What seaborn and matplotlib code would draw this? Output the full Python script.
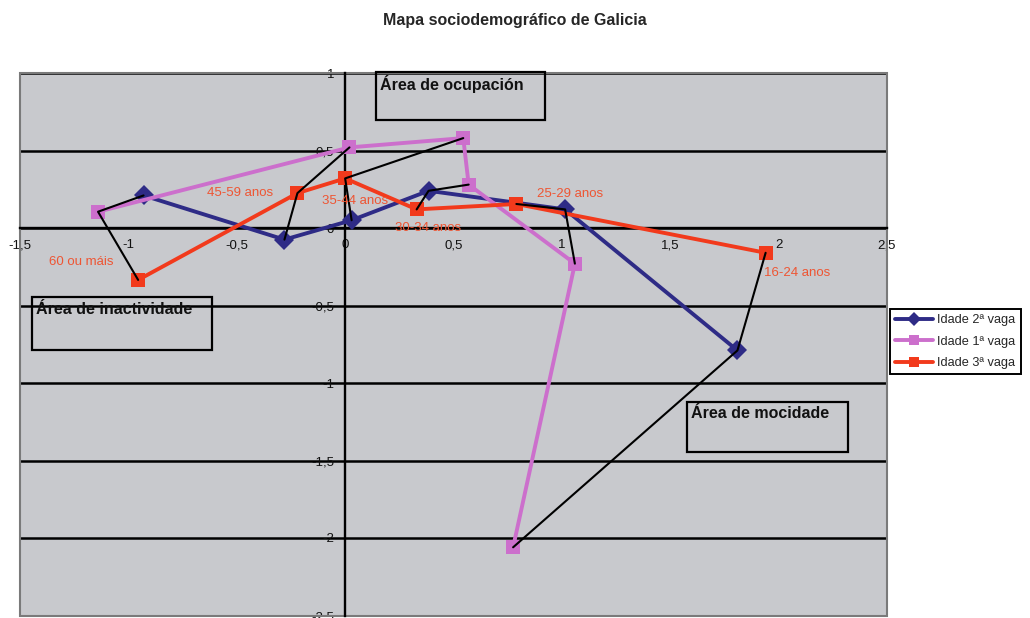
import matplotlib
matplotlib.use('Agg')
import numpy as np
import pandas as pd
import matplotlib.pyplot as plt
import seaborn as sns
from matplotlib.lines import Line2D
from matplotlib.patches import Rectangle
from matplotlib.ticker import FuncFormatter, MultipleLocator


# grupos de idade (mesma orde en todas as series)
idades = ['60 ou máis', '45-59 anos', '35-44 anos', '30-34 anos', '25-29 anos', '16-24 anos']

# coordenadas
vaga2_x = [-0.93, -0.28, 0.03, 0.385, 1.015, 1.81]
vaga2_y = [0.21, -0.075, 0.05, 0.24, 0.12, -0.79]

vaga1_x = [-1.14, 0.02, 0.545, 0.57, 1.06, 0.775]
vaga1_y = [0.105, 0.52, 0.58, 0.28, -0.23, -2.06]

vaga3_x = [-0.955, -0.22, 0.0, 0.33, 0.79, 1.94]
vaga3_y = [-0.335, 0.225, 0.32, 0.12, 0.155, -0.16]

series = ['Idade 2ª vaga', 'Idade 1ª vaga', 'Idade 3ª vaga']

# liñas negras que unen o mesmo grupo de idade entre vagas
conexions = [
    ['Idade 3ª vaga', 'Idade 1ª vaga', 'Idade 2ª vaga'],
    ['Idade 2ª vaga', 'Idade 3ª vaga', 'Idade 1ª vaga'],
    ['Idade 2ª vaga', 'Idade 3ª vaga', 'Idade 1ª vaga'],
    ['Idade 3ª vaga', 'Idade 2ª vaga', 'Idade 1ª vaga'],
    ['Idade 3ª vaga', 'Idade 2ª vaga', 'Idade 1ª vaga'],
    ['Idade 3ª vaga', 'Idade 2ª vaga', 'Idade 1ª vaga'],
]

# desprazamento das etiquetas (px) respecto ao punto da 3ª vaga
etiqueta_dx = [-57, -57, 10, 11, 54, 32]
etiqueta_dy = [18, 0, -23, -19, 10, -20]

cores = {'Idade 2ª vaga': '#2E2B86', 'Idade 1ª vaga': '#CC6FCC', 'Idade 3ª vaga': '#F23A1C'}
marcadores = {'Idade 2ª vaga': 'D', 'Idade 1ª vaga': 's', 'Idade 3ª vaga': 's'}

W, H = 1030, 618


def fx(px):
    return px / W


def fy(py):
    return 1 - py / H


def main():
    df = pd.concat([
        pd.DataFrame({'x': vaga2_x, 'y': vaga2_y, 'serie': series[0], 'idade': idades}),
        pd.DataFrame({'x': vaga1_x, 'y': vaga1_y, 'serie': series[1], 'idade': idades}),
        pd.DataFrame({'x': vaga3_x, 'y': vaga3_y, 'serie': series[2], 'idade': idades}),
    ], ignore_index=True)

    sns.set_style('white')
    plt.rcParams['font.family'] = ['Liberation Sans', 'DejaVu Sans']

    fig = plt.figure(figsize=(W / 100, H / 100), dpi=100)
    ax = fig.add_axes([fx(20), fy(615.5), (887 - 20) / W, (615.5 - 73) / H])
    ax.set_facecolor('#C8C9CD')

    sns.lineplot(data=df, x='x', y='y', hue='serie', style='serie',
                 hue_order=series, style_order=series, palette=cores,
                 markers=marcadores, dashes=False, sort=False, estimator=None,
                 linewidth=2.8, markersize=10, markeredgewidth=0,
                 legend=False, ax=ax, zorder=3)

    # unir os grupos de idade
    for i, orde in enumerate(conexions):
        xs = [df[(df.serie == s) & (df.idade == idades[i])].x.iloc[0] for s in orde]
        ys = [df[(df.serie == s) & (df.idade == idades[i])].y.iloc[0] for s in orde]
        ax.plot(xs, ys, color='black', lw=1.5, zorder=4)

    # etiquetas de idade
    for i, nome in enumerate(idades):
        ax.annotate(nome, (vaga3_x[i], vaga3_y[i]),
                    xytext=(etiqueta_dx[i] * 0.72, etiqueta_dy[i] * 0.72),
                    textcoords='offset points', ha='center', va='center',
                    color='#EE5533', fontsize=9.5,
                    family=['Liberation Sans Narrow', 'Liberation Sans', 'DejaVu Sans'],
                    zorder=5)

    ax.set_xlim(-1.5, 2.5)
    ax.set_ylim(-2.5, 1)
    ax.xaxis.set_major_locator(MultipleLocator(0.5))
    ax.yaxis.set_major_locator(MultipleLocator(0.5))
    fmt = FuncFormatter(lambda v, p: f"{v:g}".replace('.', ','))
    ax.xaxis.set_major_formatter(fmt)
    ax.yaxis.set_major_formatter(fmt)

    ax.spines['left'].set_position(('data', 0))
    ax.spines['bottom'].set_position(('data', 0))
    for s in ['left', 'bottom']:
        ax.spines[s].set_linewidth(1.7)
        ax.spines[s].set_color('black')
        ax.spines[s].set_zorder(2)
    ax.spines['top'].set_visible(False)
    ax.spines['right'].set_visible(False)
    ax.add_patch(Rectangle((0, 0), 1, 1, transform=ax.transAxes, fill=False,
                           edgecolor='#7A7A7A', lw=1.5, zorder=1, clip_on=False))

    ax.tick_params(axis='both', direction='out', length=6, width=1.3,
                   color='black', labelsize=9.5, pad=2, labelcolor='#111111')
    ax.yaxis.grid(True, color='black', lw=1.8)
    ax.xaxis.grid(False)
    ax.set_axisbelow(True)
    ax.set_xlabel('')
    ax.set_ylabel('')

    # caixas de área
    areas = [('Área de ocupación', 376, 72, 545, 120),
             ('Área de inactividade', 32, 297, 212, 350),
             ('Área de mocidade', 687, 402, 848, 452)]
    for texto, x0, y0, x1, y1 in areas:
        fig.patches.append(Rectangle((fx(x0), fy(y1)), (x1 - x0) / W, (y1 - y0) / H,
                                     transform=fig.transFigure, fill=False,
                                     edgecolor='black', lw=1.6, zorder=6))
        fig.text(fx(x0 + 4), fy(y0 + 12), texto, ha='left', va='center',
                 fontsize=11.5, fontweight='bold', color='#111111', zorder=7)

    fig.text(0.5, fy(20), 'Mapa sociodemográfico de Galicia', ha='center', va='center',
             fontsize=11.5, fontweight='bold',
             family=['Liberation Sans Narrow', 'Liberation Sans', 'DejaVu Sans'])

    handles = [Line2D([], [], color=cores[s], marker=marcadores[s], lw=2.8,
                      markersize=7.5, markeredgewidth=0) for s in series]
    leg = fig.legend(handles, series, loc='upper left',
                     bbox_to_anchor=(fx(890), fy(309)), frameon=True, fancybox=False,
                     edgecolor='black', framealpha=1, fontsize=9.2, handlelength=3.0,
                     handletextpad=0.3, labelspacing=0.75, borderpad=0.4,
                     borderaxespad=0)
    leg.get_frame().set_linewidth(1.4)

    fig.savefig('out.png', dpi=100, facecolor='white')
    plt.close(fig)


if __name__ == "__main__":
    main()
